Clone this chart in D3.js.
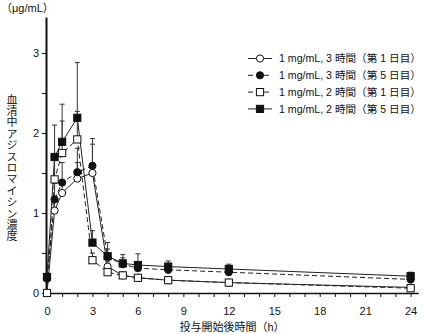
<!DOCTYPE html>
<html>
<head>
<meta charset="utf-8">
<script src="https://cdn.jsdelivr.net/npm/d3@7"></script>
<style>
  html, body { margin: 0; padding: 0; background: #fff; }
  svg { display: block; }
  text { font-family: "Liberation Sans", Arial, "Noto Sans CJK JP", sans-serif; fill: #111; }
  .jp { font-family: "Liberation Sans", Arial, "Noto Sans CJK JP", sans-serif; }
  .vtitle { font-family: "Noto Sans CJK JP", sans-serif; writing-mode: vertical-rl; text-orientation: upright; }
</style>
</head>
<body>
<svg id="chart" width="425" height="334"></svg>
<script>
// Sampling times (h)
const times = [0, 0.5, 1, 2, 3, 4, 5, 6, 8, 12, 24];

// Serum azithromycin concentration (µg/mL), mean and SD
const conc3hDay1 = [0, 1.03, 1.25, 1.43, 1.50, 0.33, 0.22, 0.19, 0.16, 0.13, 0.07];
const sd3hDay1   = [0, 0.15, 0.15, 0.20, 0.36, 0.06, 0.04, 0.03, 0.03, 0.02, 0.02];
const conc3hDay5 = [0.18, 1.17, 1.38, 1.51, 1.59, 0.45, 0.36, 0.31, 0.29, 0.26, 0.17];
const sd3hDay5   = [0.04, 0.20, 0.25, 0.30, 0.34, 0.10, 0.08, 0.07, 0.06, 0.06, 0.05];
const conc2hDay1 = [0, 1.42, 1.75, 1.92, 0.41, 0.26, 0.22, 0.19, 0.16, 0.13, 0.06];
const sd2hDay1   = [0, 0.30, 0.40, 0.35, 0.09, 0.06, 0.04, 0.03, 0.03, 0.02, 0.02];
const conc2hDay5 = [0.20, 1.70, 1.89, 2.19, 0.63, 0.46, 0.37, 0.35, 0.33, 0.30, 0.21];
const sd2hDay5   = [0.03, 0.40, 0.47, 0.69, 0.15, 0.17, 0.11, 0.14, 0.07, 0.06, 0.05];

const seriesLabels = [
  "1 mg/mL, 3 時間（第 1 日目）",
  "1 mg/mL, 3 時間（第 5 日目）",
  "1 mg/mL, 2 時間（第 1 日目）",
  "1 mg/mL, 2 時間（第 5 日目）"
];

const xTicks = d3.range(0, 25, 1);
const yTicks = d3.range(0, 3.01, 0.5);

const series = [
  { label: seriesLabels[0], values: conc3hDay1, sd: sd3hDay1, shape: "circle", filled: false, dashed: false },
  { label: seriesLabels[1], values: conc3hDay5, sd: sd3hDay5, shape: "circle", filled: true,  dashed: true  },
  { label: seriesLabels[2], values: conc2hDay1, sd: sd2hDay1, shape: "square", filled: false, dashed: true  },
  { label: seriesLabels[3], values: conc2hDay5, sd: sd2hDay5, shape: "square", filled: true,  dashed: false }
];

const svg = d3.select("#chart");

const x = d3.scaleLinear().domain([0, 24.5]).range([47, 418.2]);
const y = d3.scaleLinear().domain([0, 3.45]).range([293, 17]);

// Axes
const xAxis = d3.axisBottom(x)
  .tickValues(xTicks)
  .tickSize(4)
  .tickSizeOuter(0)
  .tickFormat(d => d % 3 === 0 ? String(d) : "");
const gx = svg.append("g").attr("transform", `translate(0,${y(0)})`).call(xAxis);
gx.select(".domain").attr("stroke", "#111").attr("stroke-width", 1.3);
gx.selectAll(".tick line").attr("stroke", "#111").attr("stroke-width", 1);
gx.selectAll(".tick text").attr("font-size", 11).attr("y", 12).attr("dy", "0.95em")
  .style("font-family", "Liberation Sans, Arial, sans-serif");

const yAxis = d3.axisLeft(y)
  .tickValues(yTicks)
  .tickSize(4)
  .tickSizeOuter(0)
  .tickFormat(d => Number.isInteger(d) ? String(d) : "");
const gy = svg.append("g").attr("transform", `translate(${x(0) - 1},0)`).call(yAxis);
gy.select(".domain").attr("stroke", "#111").attr("stroke-width", 2);
gy.selectAll(".tick line").attr("stroke", "#111").attr("stroke-width", 1);
gy.selectAll(".tick text").attr("font-size", 11).attr("x", -7)
  .style("font-family", "Liberation Sans, Arial, sans-serif");

// Data lines
const line = d3.line().x((d, i) => x(times[i])).y(d => y(d));
const plot = svg.append("g");
series.forEach(s => {
  plot.append("path")
    .attr("d", line(s.values))
    .attr("fill", "none")
    .attr("stroke", "#222")
    .attr("stroke-width", 1)
    .attr("stroke-dasharray", s.dashed ? "5,3" : null);
});

// Upper error bars
series.forEach(s => {
  s.values.forEach((v, i) => {
    if (!s.sd[i]) return;
    const cx = x(times[i]);
    const top = y(v + s.sd[i]);
    plot.append("line").attr("x1", cx).attr("x2", cx).attr("y1", y(v)).attr("y2", top)
      .attr("stroke", "#333").attr("stroke-width", 1);
    plot.append("line").attr("x1", cx - 2.5).attr("x2", cx + 2.5).attr("y1", top).attr("y2", top)
      .attr("stroke", "#333").attr("stroke-width", 1);
  });
});

function drawMarker(g, shape, filled, cx, cy) {
  if (shape === "circle") {
    g.append("circle").attr("cx", cx).attr("cy", cy).attr("r", 3.6)
      .attr("fill", filled ? "#111" : "#fff").attr("stroke", "#111").attr("stroke-width", 1);
  } else {
    g.append("rect").attr("x", cx - 3.6).attr("y", cy - 3.6).attr("width", 7.2).attr("height", 7.2)
      .attr("fill", filled ? "#111" : "#fff").attr("stroke", "#111").attr("stroke-width", 1);
  }
}

// Markers
series.forEach(s => {
  s.values.forEach((v, i) => drawMarker(plot, s.shape, s.filled, x(times[i]), y(v)));
});

// Legend
const legend = svg.append("g");
series.forEach((s, k) => {
  const ly = 58.5 + k * 16.8;
  legend.append("line").attr("x1", 248).attr("x2", 272).attr("y1", ly).attr("y2", ly)
    .attr("stroke", "#222").attr("stroke-width", 1)
    .attr("stroke-dasharray", s.dashed ? "5,3" : null);
  drawMarker(legend, s.shape, s.filled, 260, ly);
  legend.append("text").attr("class", "jp").attr("x", 279).attr("y", ly).attr("dy", "0.36em")
    .attr("font-size", 10.6).text(s.label);
});

// Unit label
svg.append("text").attr("class", "jp").attr("x", 1).attr("y", 12).attr("font-size", 11)
  .text("（μg/mL）");

// Vertical y-axis title
svg.append("text").attr("class", "vtitle")
  .attr("x", 12).attr("y", 94)
  .attr("font-size", 11)
  .style("letter-spacing", "0.4px")
  .text("血清中アジスロマイシン濃度");

// x-axis title
svg.append("text").attr("class", "jp").attr("x", 232).attr("y", 331).attr("text-anchor", "middle")
  .attr("font-size", 11).text("投与開始後時間（h）");
</script>
</body>
</html>
